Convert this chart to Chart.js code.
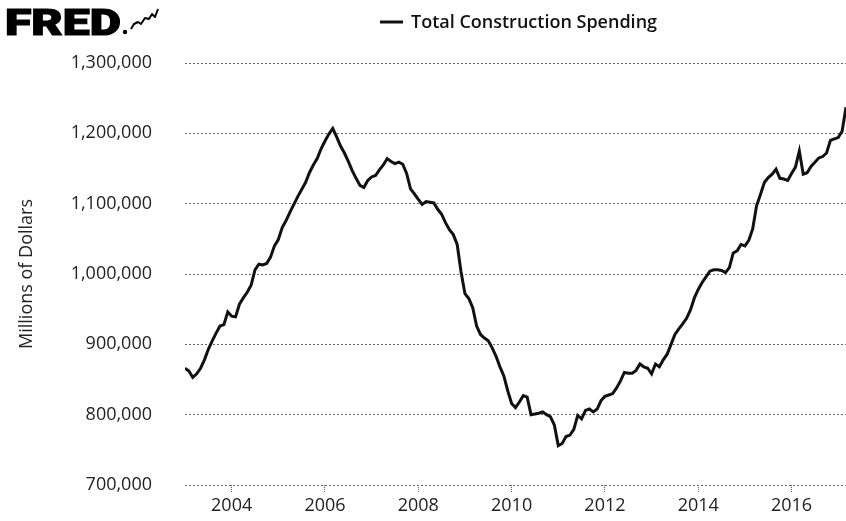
<!DOCTYPE html>
<html><head><meta charset="utf-8">
<script src="https://cdn.jsdelivr.net/npm/chart.js@4.4.0/dist/chart.umd.min.js"></script>
<style>html,body{margin:0;padding:0;background:#fff}#wrap{width:846px;height:521px;position:relative}</style>
</head><body><div id="wrap"><canvas id="c" width="846" height="521"></canvas></div>
<script>
const startYear = 2003;
const startMonth = 1;
const seriesName = 'Total Construction Spending';
const yAxisTitle = 'Millions of Dollars';
const logoText = 'FRED';
const yTicks = [700000, 800000, 900000, 1000000, 1100000, 1200000, 1300000];
const xTickYears = [2004, 2006, 2008, 2010, 2012, 2014, 2016];
// Monthly values (millions of dollars), Jan 2003 onward
const spending = [
  866000, 862000, 853000, 858000, 866000, 878000, 893000, 905000, 916000, 926000, 928000, 946000,
  940000, 939000, 957000, 966000, 974000, 984000, 1006000, 1014000, 1013000, 1015000, 1024000, 1040000,
  1049000, 1066000, 1076000, 1088000, 1099000, 1110000, 1120000, 1130000, 1144000, 1155000, 1164000, 1178000,
  1189000, 1199000, 1207000, 1195000, 1182000, 1172000, 1160000, 1147000, 1136000, 1126000, 1123000, 1133000,
  1138000, 1140000, 1148000, 1155000, 1164000, 1160000, 1157000, 1159000, 1156000, 1143000, 1121000, 1114000,
  1106000, 1099000, 1103000, 1102000, 1101000, 1092000, 1085000, 1073000, 1063000, 1056000, 1042000, 1003000,
  972000, 965000, 952000, 926000, 914000, 909000, 905000, 895000, 883000, 868000, 855000, 834000,
  816000, 810000, 818000, 827000, 825000, 800000, 801000, 802000, 804000, 800000, 797000, 785000,
  756000, 759000, 769000, 771000, 779000, 799000, 794000, 806000, 808000, 804000, 808000, 820000,
  826000, 828000, 830000, 838000, 848000, 860000, 859000, 859000, 863000, 872000, 868000, 866000,
  858000, 872000, 868000, 878000, 886000, 900000, 914000, 922000, 929000, 937000, 949000, 966000,
  978000, 988000, 996000, 1004000, 1006000, 1006000, 1005000, 1002000, 1009000, 1030000, 1033000, 1042000,
  1040000, 1048000, 1064000, 1097000, 1113000, 1130000, 1137000, 1142000, 1149000, 1136000, 1135000, 1133000,
  1143000, 1152000, 1175000, 1142000, 1144000, 1153000, 1159000, 1165000, 1167000, 1172000, 1190000, 1192000,
  1194000, 1203000, 1237000
];

const points = spending.map((v, i) => ({ x: startYear + (startMonth - 1 + i) / 12, y: v }));

const decor = {
  id: 'decor',
  beforeDraw(chart) {
    const ctx = chart.ctx;
    ctx.save();
    ctx.fillStyle = '#fff';
    ctx.fillRect(0, 0, chart.width, chart.height);
    ctx.restore();
  },
  afterDraw(chart) {
    const ctx = chart.ctx;
    ctx.save();
    // FRED logo
    ctx.fillStyle = '#000';
    ctx.font = '900 37px Roboto, "DejaVu Sans", sans-serif';
    ctx.textBaseline = 'alphabetic';
    const w = ctx.measureText(logoText).width;
    ctx.translate(5, 35);
    ctx.scale(116 / w, 1);
    ctx.fillText(logoText, 0, 0);
    ctx.strokeStyle = '#000'; ctx.lineWidth = 1.2;
    ctx.strokeText(logoText, 0, 0);
    ctx.restore();
    ctx.save();
    ctx.fillStyle = '#000';
    ctx.beginPath(); ctx.arc(125, 32, 2.2, 0, Math.PI * 2); ctx.fill();
    ctx.strokeStyle = '#000'; ctx.lineWidth = 2; ctx.lineJoin = 'round';
    ctx.beginPath();
    ctx.moveTo(131, 29); ctx.lineTo(134, 24); ctx.lineTo(138, 22); ctx.lineTo(141, 24);
    ctx.lineTo(145, 18); ctx.lineTo(149, 19); ctx.lineTo(152, 14); ctx.lineTo(155, 17); ctx.lineTo(158, 9);
    ctx.stroke();
    // Legend
    ctx.strokeStyle = '#111'; ctx.lineWidth = 3;
    ctx.beginPath(); ctx.moveTo(380, 22); ctx.lineTo(403, 22); ctx.stroke();
    ctx.fillStyle = '#111';
    ctx.font = '600 18px "Open Sans", sans-serif';
    ctx.textBaseline = 'middle';
    ctx.fillText(seriesName, 411, 23);
    ctx.restore();
  }
};

new Chart(document.getElementById('c'), {
  type: 'line',
  data: { datasets: [{ label: seriesName, data: points, borderColor: '#111', borderWidth: 3, pointRadius: 0, tension: 0, fill: false }] },
  options: {
    responsive: false, animation: false, devicePixelRatio: 1,
    layout: { padding: { top: 63, left: 0, right: 0, bottom: 0 } },
    plugins: { legend: { display: false }, tooltip: { enabled: false } },
    scales: {
      x: {
        type: 'linear',
        min: points[0].x, max: points[points.length - 1].x,
        afterBuildTicks: s => { s.ticks = xTickYears.map(v => ({ value: v })); },
        afterFit: s => { s.height = 36; },
        border: { display: false },
        grid: { drawOnChartArea: false, drawTicks: true, tickLength: 7, tickColor: '#666', tickBorderDash: [1, 1], tickWidth: 1 },
        ticks: { padding: 3, maxRotation: 0, color: '#222', font: { family: '"Open Sans", sans-serif', size: 18 }, callback: v => String(v) }
      },
      y: {
        min: 700000, max: 1300000,
        afterBuildTicks: s => { s.ticks = yTicks.map(v => ({ value: v })); },
        afterFit: s => { s.width = 185; },
        border: { display: false, dash: [2, 2] },
        grid: { drawTicks: true, tickLength: 33, tickColor: 'rgba(0,0,0,0)', color: '#666', lineWidth: 1 },
        ticks: { padding: 0, color: '#222', font: { family: '"Open Sans", sans-serif', size: 18 }, callback: v => v.toLocaleString('en-US') },
        title: { display: true, text: yAxisTitle, color: '#222', font: { family: '"Open Sans", sans-serif', size: 18 }, padding: { top: 16, bottom: 0 } }
      }
    }
  },
  plugins: [decor]
});
</script></body></html>
